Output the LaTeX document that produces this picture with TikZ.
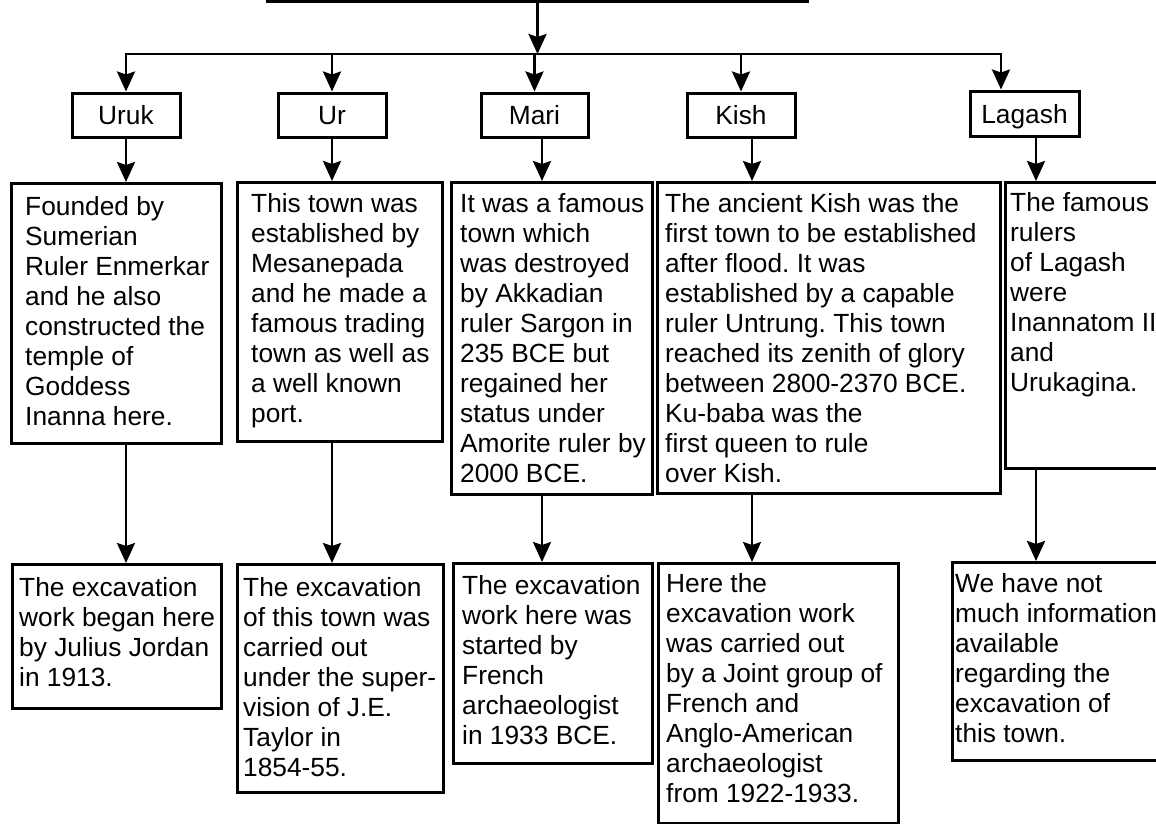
\documentclass[tikz,border=0pt]{standalone}
\usepackage{fontspec}
\setmainfont{Liberation Sans}
\usetikzlibrary{arrows.meta}
\frenchspacing
\newcommand\boxfont{\fontsize{26.3}{30}\selectfont}
\tikzset{
  line/.style={line width=2.7pt},
  arr/.style={line, -{Stealth[length=20pt,width=18pt,inset=3pt]}},
  box/.style={draw, line width=3pt, inner sep=0pt, anchor=north west},
  lbl/.style={draw, line width=3pt, inner sep=0pt, minimum width=108pt,
    minimum height=44pt, font=\boxfont, text height=19pt, text depth=0pt},
  txt/.style={anchor=north west, inner sep=0pt, align=left, font=\boxfont,
    execute at begin node={\rule{0pt}{20pt}}}
}
\begin{document}
\begin{tikzpicture}[x=1pt,y=-1pt]
\useasboundingbox (0,0) rectangle (1156,823);

% guide coordinates: bus line and the columns of the vertical connectors
\coordinate (bus) at (0,54);
\coordinate (lagin) at (1001,0);
\coordinate (cU) at (126,0);
\coordinate (cR) at (332,0);
\coordinate (cM) at (542,0);
\coordinate (cK) at (752,0);
\coordinate (cL) at (1036,0);

% heading box (cut at the top edge)
\node[box, anchor=south west, minimum width=540pt, minimum height=60pt] (top) at (266,3) {};

% town labels
\node[lbl] (uruk) at (126,115) {Uruk};
\node[lbl] (ur) at (332,115) {Ur};
\node[lbl, minimum width=107pt] (mari) at (534.5,115) {Mari};
\node[lbl] (kish) at (741,115) {Kish};
\node[lbl, minimum width=109pt, minimum height=45pt] (lagash) at (1024.5,113.5) {Lagash};

% history boxes
\node[box, minimum width=210pt, minimum height=260pt] (urukd) at (10,182) {};
\node[box, minimum width=205pt, minimum height=259pt] (urd) at (236,181) {};
\node[box, minimum width=201pt, minimum height=312pt] (marid) at (450,181) {};
\node[box, minimum width=343pt, minimum height=311pt] (kishd) at (656,181) {};
\node[box, minimum width=180pt, minimum height=286pt] (lagashd) at (1004,181) {};

\node[txt] at ([shift={(15,14)}]urukd.north west) {Founded by\\Sumerian\\Ruler Enmerkar\\and he also\\constructed the\\temple of\\Goddess\\Inanna here.};
\node[txt] at ([shift={(15,12)}]urd.north west) {This town was\\established by\\Mesanepada\\and he made a\\famous trading\\town as well as\\a well known\\port.};
\node[txt] at ([shift={(10,12)}]marid.north west) {It was a famous\\town which\\was destroyed\\by Akkadian\\ruler Sargon in\\235 BCE but\\regained her\\status under\\Amorite ruler by\\2000 BCE.};
\node[txt] at ([shift={(9,12)}]kishd.north west) {The ancient Kish was the\\first town to be established\\after flood. It was\\established by a capable\\ruler Untrung. This town\\reached its zenith of glory\\between 2800-2370 BCE.\\Ku-baba was the\\first queen to rule\\over Kish.};
\node[txt] at ([shift={(6,11)}]lagashd.north west) {The famous\\rulers\\of Lagash\\were\\Inannatom II\\and\\Urukagina.};

% excavation boxes
\node[box, minimum width=209pt, minimum height=144pt] (urukx) at (11,563) {};
\node[box, minimum width=206pt, minimum height=228pt] (urx) at (236,563) {};
\node[box, minimum width=199pt, minimum height=200pt] (marix) at (452,562) {};
\node[box, minimum width=240pt, minimum height=260pt] (kishx) at (657,562) {};
\node[box, minimum width=230pt, minimum height=198pt] (lagashx) at (951,561) {};

\node[txt] at ([shift={(8,14)}]urukx.north west) {The excavation\\work began here\\by Julius Jordan\\in 1913.};
\node[txt] at ([shift={(7,14)}]urx.north west) {The excavation\\of this town was\\carried out\\under the super-\\vision of J.E.\\Taylor in\\1854-55.};
\node[txt] at ([shift={(10,13)}]marix.north west) {The excavation\\work here was\\started by\\French\\archaeologist\\in 1933 BCE.};
\node[txt] at ([shift={(9,11)}]kishx.north west) {Here the\\excavation work\\was carried out\\by a Joint group of\\French and\\Anglo-American\\archaeologist\\from 1922-1933.};
\node[txt] at ([shift={(4,12)}]lagashx.north west) {We have not\\much information\\available\\regarding the\\excavation of\\this town.};

% heading to town labels
\draw[arr] (top.south) -- (top.south |- bus);
\draw[arr] (top.south |- bus) -| (uruk.north);
\draw[arr] (top.south |- bus) -| (lagin |- lagash.north);
\draw[arr] (ur.north |- bus) -- (ur.north);
\draw[arr] (mari.north |- bus) -- (mari.north);
\draw[arr] (kish.north |- bus) -- (kish.north);

% town labels to history boxes
\draw[arr] (uruk.south -| cU) -- (urukd.north -| cU);
\draw[arr] (ur.south -| cR) -- (urd.north -| cR);
\draw[arr] (mari.south -| cM) -- (marid.north -| cM);
\draw[arr] (kish.south -| cK) -- (kishd.north -| cK);
\draw[arr] (lagash.south -| cL) -- (lagashd.north -| cL);

% history boxes to excavation boxes
\draw[arr] (urukd.south -| cU) -- (urukx.north -| cU);
\draw[arr] (urd.south -| cR) -- (urx.north -| cR);
\draw[arr] (marid.south -| cM) -- (marix.north -| cM);
\draw[arr] (kishd.south -| cK) -- (kishx.north -| cK);
\draw[arr] (lagashd.south -| cL) -- (lagashx.north -| cL);
\end{tikzpicture}
\end{document}
